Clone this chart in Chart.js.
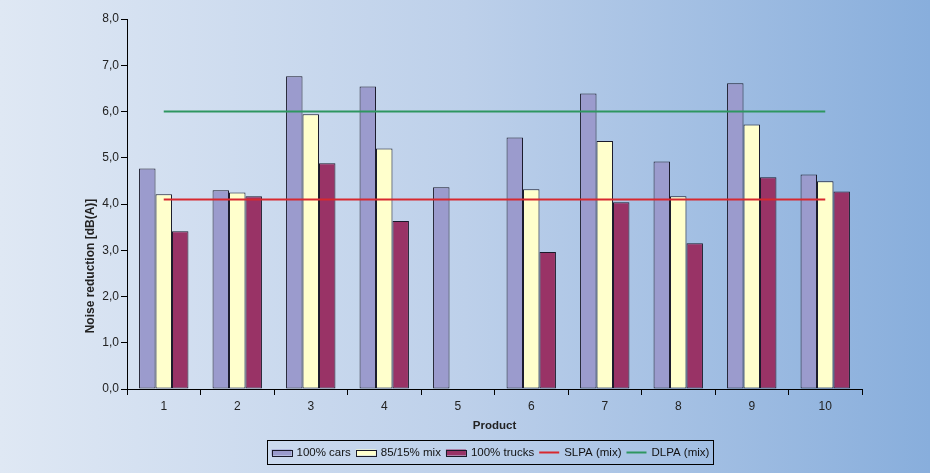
<!DOCTYPE html>
<html>
<head>
<meta charset="utf-8">
<script src="https://cdn.jsdelivr.net/npm/chart.js@4/dist/chart.umd.min.js"></script>
<style>
  html, body { margin: 0; padding: 0; }
  body { width: 930px; height: 473px; overflow: hidden; }
  #wrap { width: 930px; height: 473px; position: relative; }
</style>
</head>
<body>
<div id="wrap"><canvas id="c" width="930" height="473"></canvas></div>
<script>
const categories = ['1', '2', '3', '4', '5', '6', '7', '8', '9', '10'];
const cars   = [4.77, 4.30, 6.76, 6.54, 4.36, 5.44, 6.39, 4.92, 6.61, 4.64];
const mix    = [4.21, 4.25, 5.94, 5.20, null, 4.32, 5.36, 4.17, 5.72, 4.49];
const trucks = [3.41, 4.17, 4.88, 3.63, null, 2.96, 4.04, 3.15, 4.58, 4.27];
const slpa   = [4.1, 4.1, 4.1, 4.1, 4.1, 4.1, 4.1, 4.1, 4.1, 4.1];
const dlpa   = [6.0, 6.0, 6.0, 6.0, 6.0, 6.0, 6.0, 6.0, 6.0, 6.0];
const yTitle = 'Noise reduction [dB(A)]';
const xTitle = 'Product';

const FONT = 'Arial, "Liberation Sans", sans-serif';

const bgPlugin = {
  id: 'bg',
  beforeDraw(chart) {
    const ctx = chart.ctx;
    const g = ctx.createLinearGradient(0, 0, chart.width, 0);
    g.addColorStop(0, '#dfe8f4');
    g.addColorStop(0.5, '#bdd0ea');
    g.addColorStop(1, '#88aedc');
    ctx.save();
    ctx.fillStyle = g;
    ctx.fillRect(0, 0, chart.width, chart.height);
    ctx.restore();
  }
};

const extrasPlugin = {
  id: 'extras',
  afterDraw(chart) {
    const ctx = chart.ctx;
    // y axis title
    ctx.save();
    ctx.font = 'bold 12px ' + FONT;
    ctx.fillStyle = '#222';
    ctx.textAlign = 'center';
    ctx.textBaseline = 'middle';
    ctx.translate(91, 266);
    ctx.rotate(-Math.PI / 2);
    ctx.fillText(yTitle, 0, 0);
    ctx.restore();

    // custom legend
    ctx.save();
    ctx.font = '11.5px ' + FONT;
    const items = chart.data.datasets;
    const sw = 20, gap = 5, itemGap = 5, pad = 4;
    let total = pad;
    items.forEach((ds, i) => {
      total += sw + gap + ctx.measureText(ds.label).width + (i < items.length - 1 ? itemGap : 0);
    });
    total += pad;
    const cx = 489.5;
    const left = Math.round(cx - total / 2) + 0.5;
    const top = 440.5, h = 24;
    ctx.strokeStyle = '#000';
    ctx.lineWidth = 1;
    ctx.strokeRect(left, top, Math.round(total), h);
    let x = left + pad;
    const my = top + h / 2;
    items.forEach((ds) => {
      if (ds.type === 'line') {
        ctx.strokeStyle = ds.borderColor;
        ctx.lineWidth = 2;
        ctx.beginPath();
        ctx.moveTo(x, my);
        ctx.lineTo(x + sw, my);
        ctx.stroke();
      } else {
        ctx.fillStyle = ds.backgroundColor;
        ctx.fillRect(x, my - 3, sw, 6);
        ctx.strokeStyle = '#1a1a2a';
        ctx.lineWidth = 1;
        ctx.strokeRect(Math.round(x) + 0.5, Math.round(my - 3) + 0.5, sw, 6);
      }
      x += sw + gap;
      ctx.fillStyle = '#111';
      ctx.textAlign = 'left';
      ctx.textBaseline = 'middle';
      ctx.fillText(ds.label, x, my + 0.5);
      x += ctx.measureText(ds.label).width + itemGap;
    });
    ctx.restore();
  }
};

const barCommon = {
  borderColor: '#1a1a2a',
  borderWidth: 1,
  borderSkipped: false,
  categoryPercentage: 0.672,
  barPercentage: 1.0,
  order: 1
};

new Chart(document.getElementById('c'), {
  type: 'bar',
  data: {
    labels: categories,
    datasets: [
      Object.assign({ label: '100% cars', data: cars, backgroundColor: '#9b9bcd' }, barCommon),
      Object.assign({ label: '85/15% mix', data: mix, backgroundColor: '#ffffcc' }, barCommon),
      Object.assign({ label: '100% trucks', data: trucks, backgroundColor: '#993366' }, barCommon),
      { type: 'line', label: 'SLPA (mix)', data: slpa, borderColor: '#d8282e', backgroundColor: '#d8282e',
        borderWidth: 2, pointRadius: 0, fill: false, order: 0 },
      { type: 'line', label: 'DLPA (mix)', data: dlpa, borderColor: '#2e9660', backgroundColor: '#2e9660',
        borderWidth: 2, pointRadius: 0, fill: false, order: 0 }
    ]
  },
  options: {
    responsive: false,
    animation: false,
    devicePixelRatio: 1,
    layout: { padding: { left: 0, right: 68, top: 19, bottom: 38 } },
    plugins: {
      legend: { display: false },
      tooltip: { enabled: false },
      title: { display: false }
    },
    scales: {
      x: {
        grid: { display: true, drawOnChartArea: false, offset: true, tickLength: 6, color: '#000', tickColor: '#000' },
        border: { display: true, color: '#000', width: 1 },
        ticks: { color: '#222', font: { family: FONT, size: 12 }, padding: 4, maxRotation: 0 },
        title: { display: true, text: xTitle, color: '#222', font: { family: FONT, size: 11.5, weight: 'bold' }, padding: { top: 2, bottom: 2 } },
        afterFit(scale) { scale.height = 46; }
      },
      y: {
        min: 0, max: 8,
        grid: { display: true, drawOnChartArea: false, tickLength: 6, color: '#000', tickColor: '#000' },
        border: { display: true, color: '#000', width: 1 },
        ticks: {
          stepSize: 1, color: '#222', font: { family: FONT, size: 12 }, padding: 2,
          callback: v => v.toFixed(1).replace('.', ',')
        },
        afterFit(scale) { scale.width = 127; }
      }
    }
  },
  plugins: [bgPlugin, extrasPlugin]
});
</script>
</body>
</html>
